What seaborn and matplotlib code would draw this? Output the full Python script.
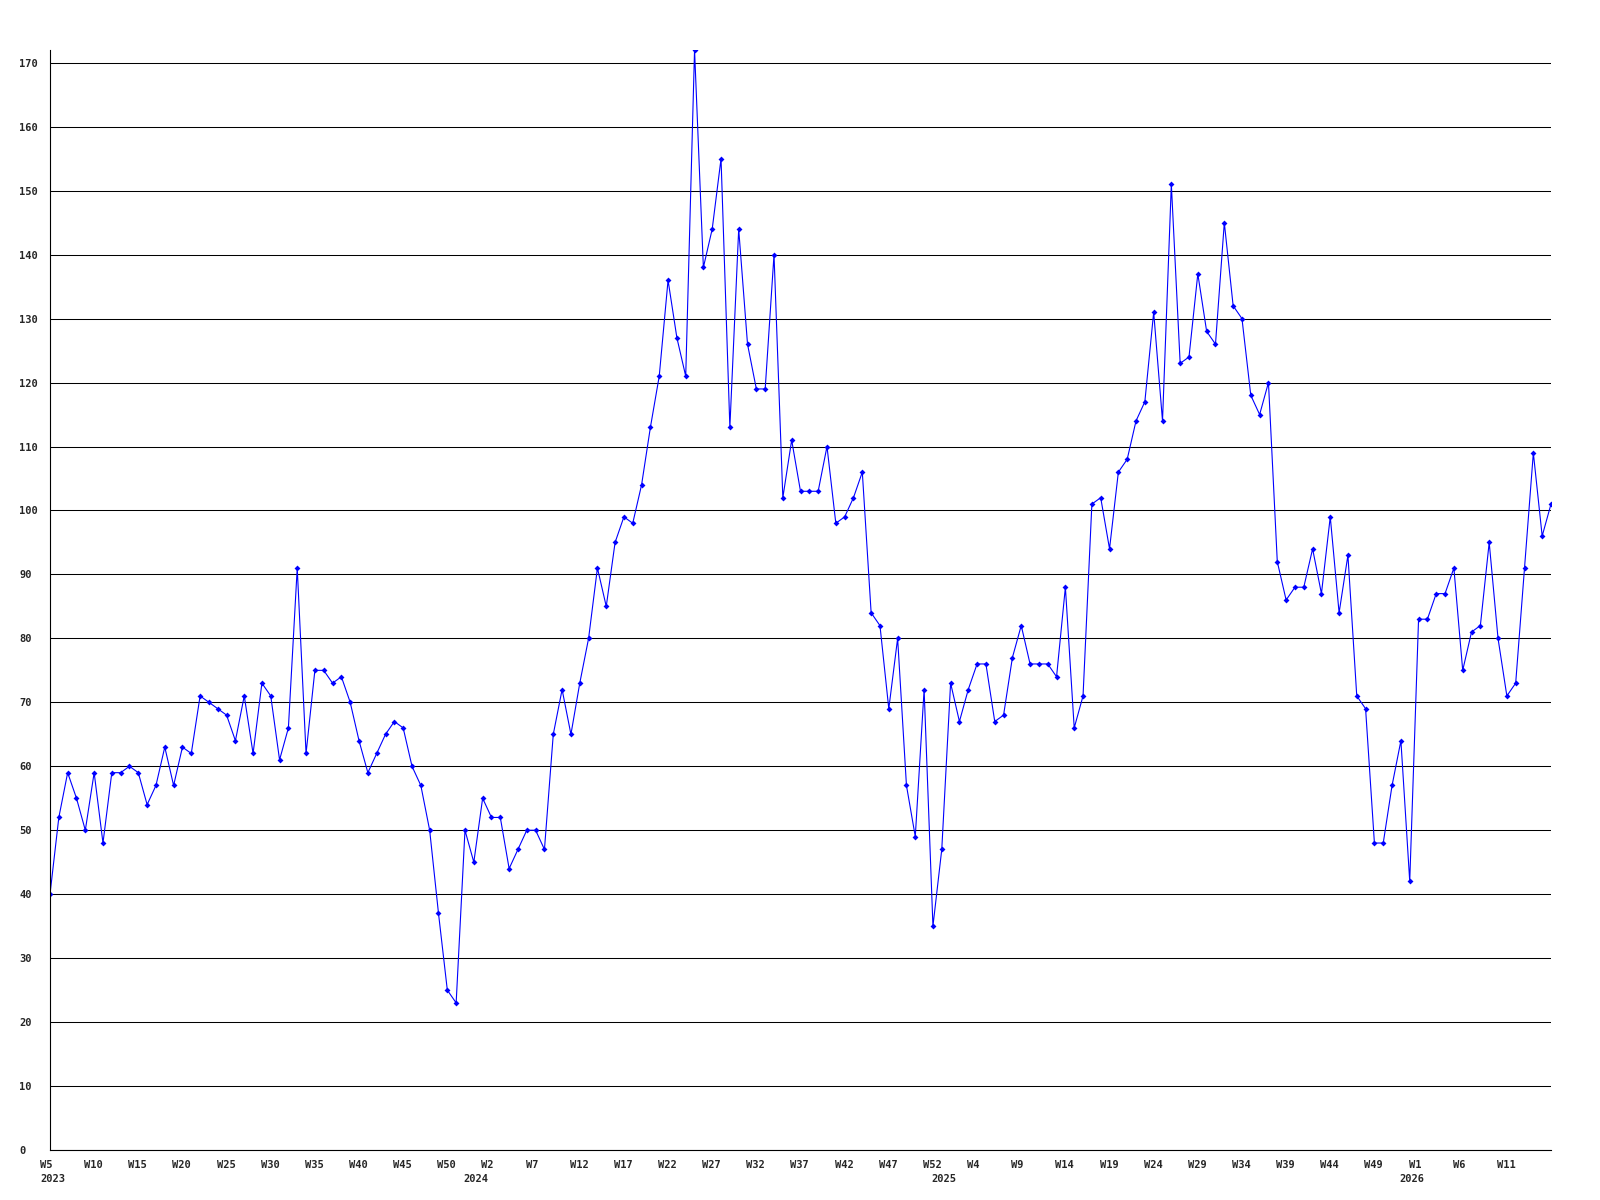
import numpy as np
import pandas as pd
import matplotlib
matplotlib.use('Agg')
import matplotlib.pyplot as plt
from matplotlib.transforms import ScaledTranslation
import seaborn as sns

# weekly counts, one list per year (2023 starts at W5, others at W0)
counts_2023 = [40, 52, 59, 55, 50, 59, 48, 59, 59, 60, 59, 54, 57, 63, 57, 63, 62, 71, 70, 69,
               68, 64, 71, 62, 73, 71, 61, 66, 91, 62, 75, 75, 73, 74, 70, 64, 59, 62, 65, 67,
               66, 60, 57, 50, 37, 25, 23, 50]
counts_2024 = [45, 55, 52, 52, 44, 47, 50, 50, 47, 65, 72, 65, 73, 80, 91, 85, 95, 99, 98, 104,
               113, 121, 136, 127, 121, 172, 138, 144, 155, 113, 144, 126, 119, 119, 140, 102, 111, 103, 103, 103,
               110, 98, 99, 102, 106, 84, 82, 69, 80, 57, 49, 72, 35]
counts_2025 = [47, 73, 67, 72, 76, 76, 67, 68, 77, 82, 76, 76, 76, 74, 88, 66, 71, 101, 102, 94,
               106, 108, 114, 117, 131, 114, 151, 123, 124, 137, 128, 126, 145, 132, 130, 118, 115, 120, 92, 86,
               88, 88, 94, 87, 99, 84, 93, 71, 69, 48, 48, 57, 64]
counts_2026 = [42, 83, 83, 87, 87, 91, 75, 81, 82, 95, 80, 71, 73, 91, 109, 96, 101]

# x-axis labels, one every 5 weeks
week_labels = ['W5', 'W10', 'W15', 'W20', 'W25', 'W30', 'W35', 'W40', 'W45', 'W50',
               'W2', 'W7', 'W12', 'W17', 'W22', 'W27', 'W32', 'W37', 'W42', 'W47', 'W52',
               'W4', 'W9', 'W14', 'W19', 'W24', 'W29', 'W34', 'W39', 'W44', 'W49',
               'W1', 'W6', 'W11']
years = ['2023', '2024', '2025', '2026']

yearly = [counts_2023, counts_2024, counts_2025, counts_2026]
values = sum(yearly, [])
df = pd.DataFrame({'idx': np.arange(len(values)), 'count': values})
year_start = np.cumsum([0] + [len(c) for c in yearly[:-1]])

sns.set_style('white')
plt.rcParams['font.family'] = ['DejaVu Sans Mono']
plt.rcParams['font.weight'] = 'bold'

fig = plt.figure(figsize=(16, 12), dpi=100)
ax = fig.add_axes([50 / 1600, 50 / 1200, 1501 / 1600, 1100 / 1200])

sns.lineplot(data=df, x='idx', y='count', ax=ax, color='#0000ff', linewidth=0.8,
             marker='D', markersize=3, markeredgewidth=0, markerfacecolor='#0000ff')

ax.set_xlim(0, len(values) - 1)
ax.set_ylim(0, 172)
ax.set_xlabel('')
ax.set_ylabel('')

ax.set_axisbelow(True)
ax.yaxis.grid(True, color='black', linewidth=0.75)
ax.xaxis.grid(False)
for side in ['top', 'right']:
    ax.spines[side].set_visible(False)
for side in ['left', 'bottom']:
    ax.spines[side].set_color('black')
    ax.spines[side].set_linewidth(0.8)

ax.set_yticks(range(0, 171, 10))
ax.set_yticklabels([str(v) for v in range(0, 171, 10)], fontsize=7.5, fontweight='bold')
ax.tick_params(axis='y', length=0, pad=22.3)
for lbl in ax.get_yticklabels():
    lbl.set_horizontalalignment('left')

ax.set_xticks(np.arange(0, 5 * len(week_labels), 5))
ax.set_xticklabels(week_labels, fontsize=7.5, fontweight='bold')
ax.tick_params(axis='x', length=0, pad=7)
shift = ScaledTranslation(-10 / 100, 0, fig.dpi_scale_trans)
for lbl in ax.get_xticklabels():
    lbl.set_horizontalalignment('left')
    lbl.set_transform(lbl.get_transform() + shift)

for yr, start in zip(years, year_start):
    ax.annotate(yr, xy=(start, 0), xycoords=('data', 'axes fraction'),
                xytext=(-7.2, -17), textcoords='offset points',
                ha='left', va='top', fontsize=7.5, fontweight='bold')

fig.savefig('out.png', dpi=100)
